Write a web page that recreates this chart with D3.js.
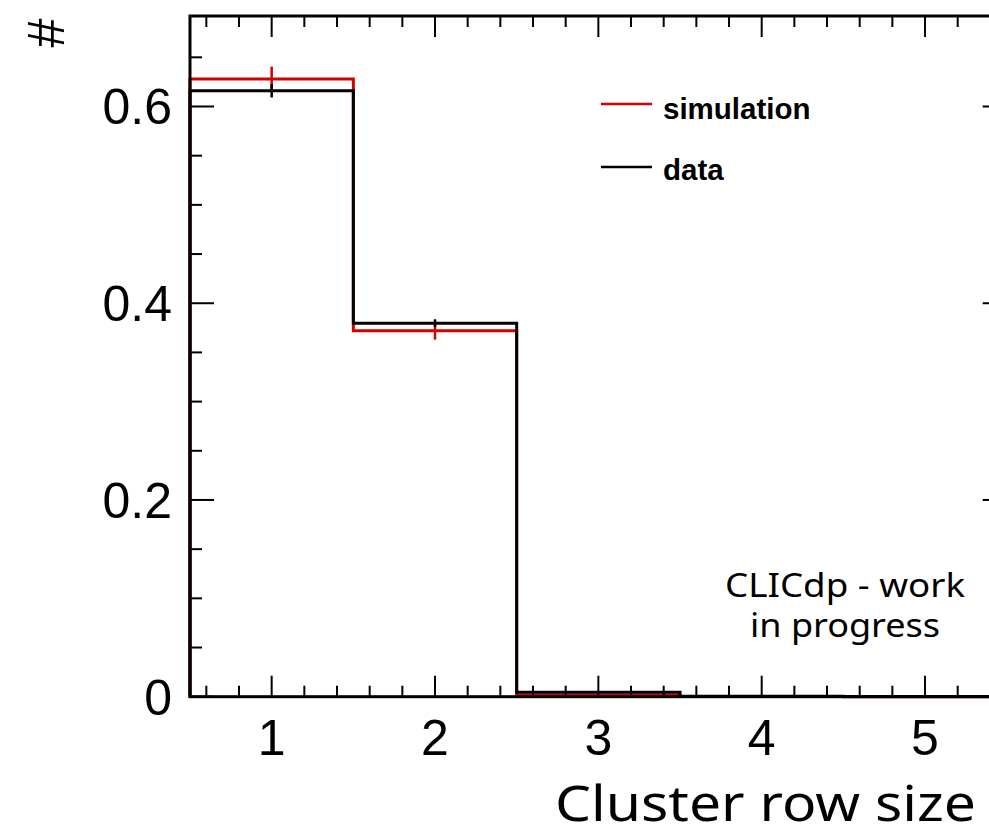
<!DOCTYPE html>
<html>
<head>
<meta charset="utf-8">
<script src="https://cdn.jsdelivr.net/npm/d3@7"></script>
<style>
  html, body { margin: 0; padding: 0; background: #fff; }
  svg { display: block; }
</style>
</head>
<body>
<svg id="chart" width="989" height="830"></svg>
<script>
// ---- data ----
const binEdges = [0.5, 1.5, 2.5, 3.5, 4.5, 5.5];
const binCenters = [1, 2, 3, 4, 5];
const simValues = [0.628, 0.372, 0.0017, 0.0002, 0.0];
const simErrors = [0.0125, 0.009, 0.0005, 0.0, 0.0];
const dataValues = [0.616, 0.3797, 0.0045, 0.0004, 0.0001];
const dataErrors = [0.0068, 0.004, 0.0006, 0.0, 0.0];
const xTickLabels = ["1", "2", "3", "4", "5"];
const yTickValues = [0, 0.2, 0.4, 0.6];
const yTickLabels = ["0", "0.2", "0.4", "0.6"];
const seriesNames = ["simulation", "data"];
const seriesColors = ["#d40000", "#000000"];

(function () {
const svg = d3.select("#chart");
const pLeft = 190, pRight = 1006.7, pTop = 16, pBottom = 696.7;
const x = d3.scaleLinear().domain([0.5, 5.5]).range([pLeft, pRight]);
const y = d3.scaleLinear().domain([0, 0.692]).range([pBottom, pTop]);

const tickFont = "'Liberation Sans', Arial, Helvetica, sans-serif";
const titleFont = "'Noto Sans', Lato, sans-serif";

// histograms
function stepPath(vals) {
  const p = d3.path();
  p.moveTo(x(binEdges[0]), y(0));
  vals.forEach((v, i) => {
    p.lineTo(x(binEdges[i]), y(v));
    p.lineTo(x(binEdges[i + 1]), y(v));
  });
  p.lineTo(x(binEdges[binEdges.length - 1]), y(0));
  return p.toString();
}
const series = [
  { vals: simValues, errs: simErrors, color: seriesColors[0] },
  { vals: dataValues, errs: dataErrors, color: seriesColors[1] }
];
series.forEach(s => {
  const g = svg.append("g");
  g.append("path").attr("d", stepPath(s.vals))
    .attr("fill", "none").attr("stroke", s.color).attr("stroke-width", 3);
  g.selectAll("line.err").data(binCenters.map((c, i) => ({ c, v: s.vals[i], e: s.errs[i] })))
    .enter().append("line")
    .attr("x1", d => x(d.c)).attr("x2", d => x(d.c))
    .attr("y1", d => y(d.v - d.e)).attr("y2", d => y(d.v + d.e))
    .attr("stroke", s.color).attr("stroke-width", 2.5);
});

// frame
svg.append("rect").attr("x", pLeft).attr("y", pTop)
  .attr("width", pRight - pLeft).attr("height", pBottom - pTop)
  .attr("fill", "none").attr("stroke", "#000").attr("stroke-width", 3);

// x ticks (bottom & top)
const xMajor = d3.range(1, 6);
const xMinor = d3.range(6, 55, 2).map(v => v / 10).filter(v => Math.abs(v - Math.round(v)) > 1e-6);
const tickG = svg.append("g").attr("stroke", "#000").attr("stroke-width", 2);
xMajor.forEach(v => {
  tickG.append("line").attr("x1", x(v)).attr("x2", x(v)).attr("y1", pBottom).attr("y2", pBottom - 21);
  tickG.append("line").attr("x1", x(v)).attr("x2", x(v)).attr("y1", pTop).attr("y2", pTop + 21);
});
xMinor.forEach(v => {
  tickG.append("line").attr("x1", x(v)).attr("x2", x(v)).attr("y1", pBottom).attr("y2", pBottom - 11);
  tickG.append("line").attr("x1", x(v)).attr("x2", x(v)).attr("y1", pTop).attr("y2", pTop + 11);
});
// y ticks (left & right)
const yMinor = d3.range(1, 14).map(v => v * 0.05).filter(v => Math.abs(v / 0.2 - Math.round(v / 0.2)) > 1e-6);
yTickValues.forEach(v => {
  tickG.append("line").attr("x1", pLeft).attr("x2", pLeft + 24).attr("y1", y(v)).attr("y2", y(v));
  tickG.append("line").attr("x1", pRight).attr("x2", pRight - 24).attr("y1", y(v)).attr("y2", y(v));
});
yMinor.forEach(v => {
  tickG.append("line").attr("x1", pLeft).attr("x2", pLeft + 12).attr("y1", y(v)).attr("y2", y(v));
  tickG.append("line").attr("x1", pRight).attr("x2", pRight - 12).attr("y1", y(v)).attr("y2", y(v));
});

// tick labels
svg.append("g").selectAll("text").data(xMajor).enter().append("text")
  .attr("x", d => x(d)).attr("y", 755)
  .attr("text-anchor", "middle")
  .style("font-family", tickFont).style("font-size", "50px")
  .text((d, i) => xTickLabels[i]);
svg.append("g").selectAll("text").data(yTickValues).enter().append("text")
  .attr("x", 172).attr("y", d => y(d) + 18)
  .attr("text-anchor", "end")
  .style("font-family", tickFont).style("font-size", "50px")
  .text((d, i) => yTickLabels[i]);

// axis titles
svg.append("text").attr("x", 555).attr("y", 821)
  .attr("textLength", 421).attr("lengthAdjust", "spacingAndGlyphs")
  .style("font-family", titleFont).style("font-size", "50px")
  .text("Cluster row size");
svg.append("text")
  .attr("transform", "translate(46,33) rotate(-90)")
  .attr("text-anchor", "middle").attr("dy", "0.35em")
  .style("font-family", tickFont).style("font-size", "52px")
  .text("#");

// legend
const legY = [104, 167];
const legTextY = [119, 180];
seriesNames.forEach((n, i) => {
  svg.append("line").attr("x1", 601).attr("x2", 652).attr("y1", legY[i]).attr("y2", legY[i])
    .attr("stroke", seriesColors[i]).attr("stroke-width", 2.5);
  svg.append("text").attr("x", 663).attr("y", legTextY[i])
    .style("font-family", tickFont).style("font-size", "29.5px").style("font-weight", "bold")
    .text(n);
});

// label
svg.append("text").attr("x", 725).attr("y", 597)
  .attr("textLength", 240).attr("lengthAdjust", "spacingAndGlyphs")
  .style("font-family", titleFont).style("font-size", "33px").text("CLICdp - work");
svg.append("text").attr("x", 750).attr("y", 637)
  .attr("textLength", 190).attr("lengthAdjust", "spacingAndGlyphs")
  .style("font-family", titleFont).style("font-size", "33px").text("in progress");
})();
</script>
</body>
</html>
